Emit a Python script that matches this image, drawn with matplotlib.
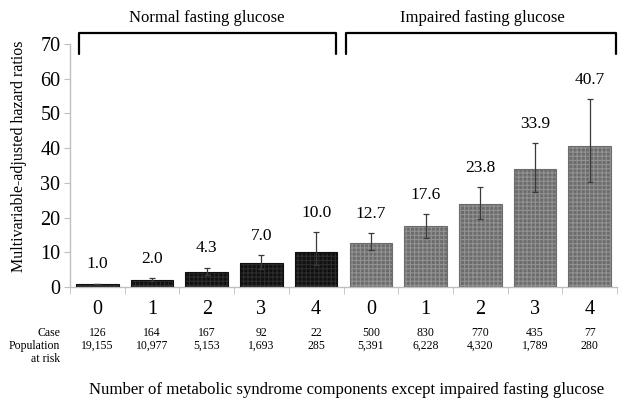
import matplotlib
matplotlib.use("Agg")
import matplotlib.pyplot as plt
from matplotlib.transforms import blended_transform_factory

plt.rcParams['font.family'] = ['Liberation Serif', 'DejaVu Serif']
plt.rcParams['hatch.linewidth'] = 0.8

categories = ['0', '1', '2', '3', '4', '0', '1', '2', '3', '4']
hr = [1.0, 2.0, 4.3, 7.0, 10.0, 12.7, 17.6, 23.8, 33.9, 40.7]
ci_low = [1.0, 1.6, 3.4, 5.2, 6.3, 10.6, 14.2, 19.7, 27.4, 30.3]
ci_high = [1.0, 2.6, 5.6, 9.2, 15.8, 15.5, 21.1, 28.8, 41.4, 54.1]
cases = ['126', '164', '167', '92', '22', '500', '830', '770', '435', '77']
population = ['19,155', '10,977', '5,153', '1,693', '285', '5,391', '6,228', '4,320', '1,789', '280']
group_labels = ['Normal fasting glucose', 'Impaired fasting glucose']
yticks = [0, 10, 20, 30, 40, 50, 60, 70]

fig = plt.figure(figsize=(6.22, 4.09), dpi=100)
ax = fig.add_axes([70/622, 1-287/409, 547/622, (287-44)/409])

x = list(range(len(hr)))
colors = ['#101010']*5 + ['#6c6c6c']*5
hatch_cols = ['#2c2c2c']*5 + ['#929292']*5
for i in x:
    ax.bar(i, hr[i], width=0.78, color=colors[i], edgecolor=hatch_cols[i],
           hatch='++++', linewidth=0, zorder=2)
    ax.bar(i, hr[i], width=0.78, color='none', edgecolor=colors[i], linewidth=0.8, zorder=3)

lo = [h - l for h, l in zip(hr, ci_low)]
hi = [u - h for h, u in zip(hr, ci_high)]
ax.errorbar(x, hr, yerr=[lo, hi], fmt='none', ecolor='#3a3a3a', elinewidth=0.9,
            capsize=2, capthick=0.9, zorder=4)

for i in x:
    ax.annotate(f'{hr[i]:.1f}', (i, ci_high[i]), xytext=(0, 8), textcoords='offset points',
                ha='center', va='bottom', fontsize=12.5)

ax.set_xlim(-0.5, 9.5)
ax.set_ylim(0, 70)
ax.set_yticks(yticks)
ax.tick_params(axis='y', labelsize=14.5, length=4, color='#bfbfbf', pad=3)
ax.set_xticks(x)
ax.set_xticklabels(categories, fontsize=14.5)
ax.tick_params(axis='x', which='major', length=0, pad=9)
ax.set_xticks([i - 0.5 for i in range(11)], minor=True)
ax.tick_params(axis='x', which='minor', length=5, color='#bfbfbf')
for s in ['top', 'right']:
    ax.spines[s].set_visible(False)
for s in ['left', 'bottom']:
    ax.spines[s].set_color('#bfbfbf')
    ax.spines[s].set_linewidth(1)

ax.set_ylabel('Multivariable-adjusted hazard ratios', fontsize=11.5)
ax.yaxis.set_label_coords(-0.079, 0.54)

# brackets
def bracket(x0, x1, label, lx):
    ytop, ybot = 73.3, 67.2
    ax.plot([x0, x0, x1, x1], [ybot, ytop, ytop, ybot], color='black', lw=1.6,
            clip_on=False, solid_joinstyle='round', solid_capstyle='round')
    ax.text(lx, 77.6, label, ha='center', va='center', fontsize=12)

bracket(-0.335, 4.36, group_labels[0], 2.0)
bracket(4.55, 9.48, group_labels[1], 7.03)

# table text
trans = blended_transform_factory(ax.transData, fig.transFigure)
for i in x:
    ax.text(i, 1-333/409, cases[i], transform=trans, ha='center', va='center', fontsize=8.5)
    ax.text(i, 1-346/409, population[i], transform=trans, ha='center', va='center', fontsize=8.5)
fig.text(60/622, 1-333/409, 'Case', ha='right', va='center', fontsize=8.5)
fig.text(60/622, 1-346/409, 'Population', ha='right', va='center', fontsize=8.5)
fig.text(60/622, 1-359/409, 'at risk', ha='right', va='center', fontsize=8.5)

fig.text(347/622, 1-390/409, 'Number of metabolic syndrome components except impaired fasting glucose',
         ha='center', va='center', fontsize=12.1)

fig.savefig('out.png', dpi=100)
